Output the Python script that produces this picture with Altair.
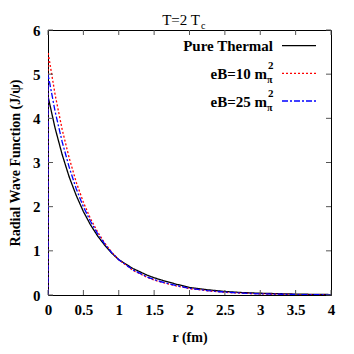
import altair as alt
import pandas as pd

# radius grid (fm); first point is the drop to 0 at r=0
r_vals = [0, 0, 0.1, 0.2, 0.3, 0.4, 0.5, 0.6, 0.7, 0.8, 0.9, 1.0, 1.2, 1.4, 1.5,
          1.6, 1.8, 2.0, 2.25, 2.5, 2.75, 3.0, 3.5, 4.0]
thermal = [0, 4.5, 3.78, 3.18, 2.67, 2.25, 1.89, 1.59, 1.34, 1.13, 0.95, 0.80,
           0.60, 0.45, 0.39, 0.34, 0.25, 0.17, 0.12, 0.08, 0.055, 0.04, 0.02, 0.01]
eb10 = [0, 5.5, 4.54, 3.75, 3.10, 2.55, 2.10, 1.73, 1.43, 1.18, 0.97, 0.80,
        0.56, 0.40, 0.34, 0.29, 0.21, 0.145, 0.095, 0.06, 0.04, 0.025, 0.01, 0.004]
eb25 = [0, 5.0, 4.16, 3.47, 2.89, 2.40, 2.00, 1.67, 1.39, 1.16, 0.96, 0.80,
        0.57, 0.41, 0.35, 0.30, 0.22, 0.15, 0.10, 0.065, 0.042, 0.027, 0.011, 0.005]
series_names = ["Pure Thermal", "eB=10", "eB=25"]
series_colors = ["#000000", "#ff0000", "#0000ff"]
series_dash = [[1, 0], [2, 2], [6, 2, 2, 2]]

x_ticks = [0, 0.5, 1, 1.5, 2, 2.5, 3, 3.5, 4]
y_ticks = [0, 1, 2, 3, 4, 5, 6]

rows = []
for name, vals in zip(series_names, [thermal, eb10, eb25]):
    for i, (r, v) in enumerate(zip(r_vals, vals)):
        rows.append({"series": name, "r": r, "psi": v, "i": i})
df = pd.DataFrame(rows)

FONT = "Liberation Serif"
W, H = 283, 265

xs = alt.Scale(domain=[0, 4], nice=False)
ys = alt.Scale(domain=[0, 6], nice=False)

x_axis = alt.Axis(values=x_ticks, format="~g", labelOverlap=False,
                  title="r (fm)", grid=False, ticks=False,
                  domain=False, labelFont=FONT, labelFontWeight="bold",
                  labelFontSize=15, labelColor="black", labelPadding=7,
                  titleFont=FONT, titleFontWeight="bold", titleFontSize=14,
                  titleColor="black", titlePadding=13, labelFlush=False)
y_axis = alt.Axis(values=y_ticks, format="~g", labelOverlap=False,
                  title="Radial Wave Function (J/\u03c8)",
                  grid=False, ticks=False, domain=False, labelFont=FONT,
                  labelFontWeight="bold", labelFontSize=15, labelColor="black",
                  labelPadding=8, titleFont=FONT, titleFontWeight="bold",
                  titleFontSize=14, titleColor="black", titlePadding=10)

base = alt.Chart(df)
lines = []
for name, col, dash in zip(series_names, series_colors, series_dash):
    lines.append(
        base.transform_filter(alt.datum.series == name)
        .mark_line(color=col, strokeDash=dash, strokeWidth=1.3, clip=True)
        .encode(
            x=alt.X("r:Q", scale=xs, axis=x_axis),
            y=alt.Y("psi:Q", scale=ys, axis=y_axis),
            order="i:Q",
        )
    )

xt = pd.DataFrame({"r": x_ticks})
yt = pd.DataFrame({"psi": y_ticks})
tick_b = alt.Chart(xt).mark_rule(color="#555").encode(
    x=alt.X("r:Q", scale=xs, axis=x_axis), y=alt.value(H), y2=alt.value(H - 5))
tick_t = alt.Chart(xt).mark_rule(color="#555").encode(
    x=alt.X("r:Q", scale=xs, axis=x_axis), y=alt.value(0), y2=alt.value(5))
tick_l = alt.Chart(yt).mark_rule(color="#555").encode(
    y=alt.Y("psi:Q", scale=ys, axis=y_axis), x=alt.value(0), x2=alt.value(5))
tick_r = alt.Chart(yt).mark_rule(color="#555").encode(
    y=alt.Y("psi:Q", scale=ys, axis=y_axis), x=alt.value(W), x2=alt.value(W - 5))

# custom legend
leg_y = [15.7, 43.3, 71]
leg = []
for name, col, dash, yy in zip(series_names, series_colors, series_dash, leg_y):
    leg.append(alt.Chart(pd.DataFrame({"a": [0]})).mark_rule(
        color=col, strokeDash=dash, strokeWidth=1.3).encode(
        x=alt.value(234), x2=alt.value(268), y=alt.value(yy)))

def txt(text, x, y, size=15, align="right", weight="bold", baseline="middle"):
    return alt.Chart(pd.DataFrame({"a": [0]})).mark_text(
        text=text, font=FONT, fontSize=size, fontWeight=weight, align=align,
        baseline=baseline, color="black").encode(x=alt.value(x), y=alt.value(y))

texts = [
    txt("Pure Thermal", 225, 16),
    txt("eB=10 m", 219, 44),
    txt("\u03c0", 219, 50, size=10, align="left"),
    txt("2", 220, 36, size=11, align="left"),
    txt("eB=25 m", 219, 72),
    txt("\u03c0", 219, 78, size=10, align="left"),
    txt("2", 220, 64, size=11, align="left"),
    txt("T=2 T", 133, -10, size=15, align="center", weight="normal"),
    txt("c", 153, -4, size=10, align="left", weight="normal"),
]

chart = alt.layer(*lines, tick_b, tick_t, tick_l, tick_r, *leg, *texts).properties(
    width=W, height=H,
    autosize=alt.AutoSizeParams(type="none"),
    padding={"left": 40, "top": 22, "right": 15, "bottom": 51},
).configure_view(stroke="black", strokeWidth=1)

chart.save("out.html", embed_options={"renderer": "svg", "actions": False})
